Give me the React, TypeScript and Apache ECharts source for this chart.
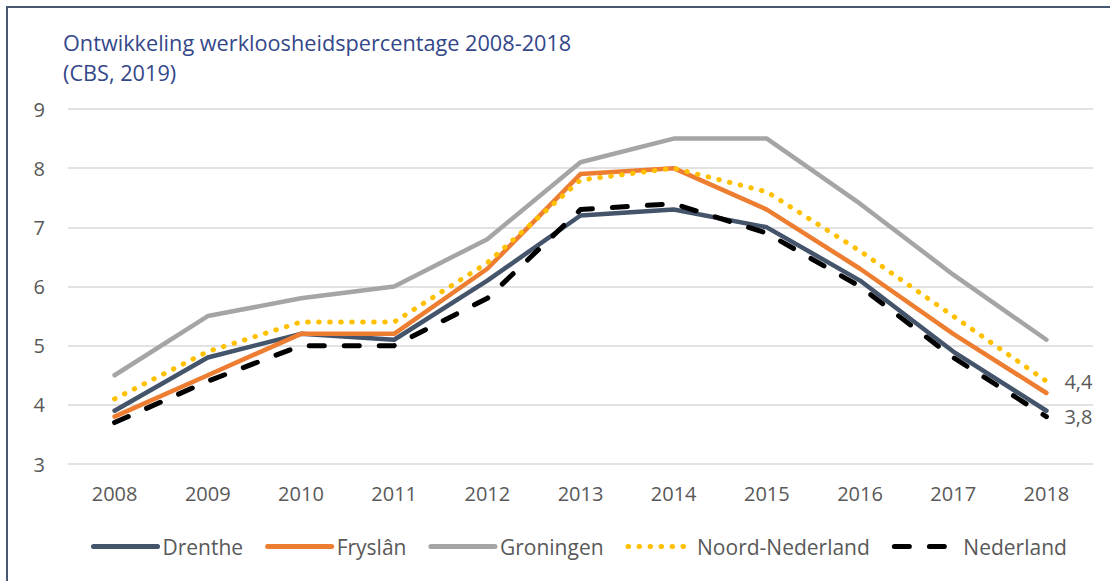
import React, { useEffect, useRef } from "react";
import * as echarts from "echarts";

const years = ["2008", "2009", "2010", "2011", "2012", "2013", "2014", "2015", "2016", "2017", "2018"];
const drenthe = [3.9, 4.8, 5.2, 5.1, 6.1, 7.2, 7.3, 7.0, 6.1, 4.9, 3.9];
const fryslan = [3.8, 4.5, 5.2, 5.2, 6.3, 7.9, 8.0, 7.3, 6.3, 5.2, 4.2];
const groningen = [4.5, 5.5, 5.8, 6.0, 6.8, 8.1, 8.5, 8.5, 7.4, 6.2, 5.1];
const noordNederland = [4.1, 4.9, 5.4, 5.4, 6.4, 7.8, 8.0, 7.6, 6.6, 5.5, 4.4];
const nederland = [3.7, 4.4, 5.0, 5.0, 5.8, 7.3, 7.4, 6.9, 6.0, 4.8, 3.8];

const FONT = "'Open Sans', 'Noto Sans', sans-serif";
const TXT = "#595959";

export default function App() {
  const ref = useRef<HTMLDivElement>(null);
  useEffect(() => {
    document.body.style.margin = "0";
    const chart = echarts.init(ref.current!, null, { renderer: "svg" });
    const endLabel = {
      show: true,
      distance: 18,
      color: TXT,
      fontFamily: FONT,
      fontSize: 20,
      formatter: (p: any) => String(p.value).replace(".", ","),
    };
    const base = (name: string, data: number[], color: string, extra: any = {}) => ({
      name,
      type: "line",
      data,
      symbol: "none",
      showSymbol: false,
      color,
      lineStyle: { color, width: 4.5, cap: "round", join: "round", ...(extra.lineStyle || {}) },
      ...(extra.rest || {}),
    });
    chart.setOption({
      animation: false,
      textStyle: { fontFamily: FONT },
      graphic: [
        {
          type: "rect",
          shape: { x: 7, y: 7, width: 1200, height: 700 },
          style: { fill: "none", stroke: "#475873", lineWidth: 2 },
          silent: true,
        },
        {
          type: "text",
          left: 63,
          top: 27,
          style: {
            text: "Ontwikkeling werkloosheidspercentage 2008-2018\n(CBS, 2019)",
            fill: "#34478a",
            font: `21.7px ${FONT}`,
            lineHeight: 30,
          },
        },
      ],
      grid: { left: 68, right: 17, top: 109, bottom: 117 },
      xAxis: {
        type: "category",
        data: years,
        boundaryGap: true,
        axisLine: { show: false },
        axisTick: { show: false },
        axisLabel: { color: TXT, fontSize: 20, fontFamily: FONT, margin: 19 },
      },
      yAxis: {
        type: "value",
        min: 3,
        max: 9,
        interval: 1,
        axisLine: { show: false },
        axisTick: { show: false },
        axisLabel: { color: TXT, fontSize: 20, fontFamily: FONT, margin: 23 },
        splitLine: { lineStyle: { color: "#d9d9d9", width: 1.5 } },
      },
      legend: {
        left: 86,
        top: 531,
        itemWidth: 64,
        itemHeight: 14,
        itemGap: 22,
        itemStyle: { opacity: 0 },
        lineStyle: { width: 5 },
        textStyle: { color: TXT, fontSize: 21, fontFamily: FONT },
        data: ["Drenthe", "Fryslân", "Groningen", "Noord-Nederland", "Nederland"],
      },
      series: [
        base("Drenthe", drenthe, "#44546a"),
        base("Fryslân", fryslan, "#ed7d31"),
        base("Groningen", groningen, "#a5a5a5"),
        base("Noord-Nederland", noordNederland, "#ffc000", {
          lineStyle: { type: [0.5, 10.5], cap: "round", width: 5 },
          rest: { endLabel },
        }),
        base("Nederland", nederland, "#000000", {
          lineStyle: { type: [15, 20], cap: "round", width: 5 },
          rest: { endLabel },
        }),
      ],
    });
    return () => chart.dispose();
  }, []);
  return <div ref={ref} style={{ width: 1110, height: 581 }} />;
}
